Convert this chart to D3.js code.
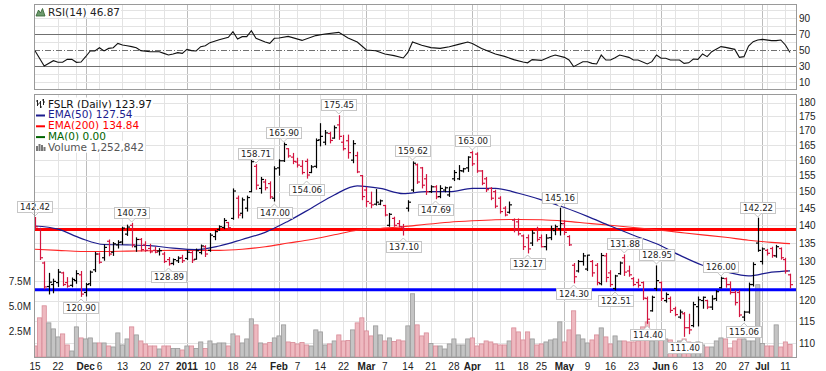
<!DOCTYPE html>
<html lang="en">
<head>
<meta charset="UTF-8">
<title>FSLR daily</title>
<script src="https://d3js.org/d3.v7.min.js"></script>
<style>
    body { margin: 0; background: #fff; }
    svg text { font-family: "DejaVu Sans", Verdana, sans-serif; }
    .ax { font-family: "Liberation Sans", Arial, sans-serif !important; font-size: 10px; fill: #222; }
</style>
</head>
<body>
<div id="chart"></div>
<script>

// ---- data ----
var startDay = "2010-11-15", endDay = "2011-07-12";
var holidays = ["2010-11-25", "2010-12-24", "2011-01-17", "2011-02-21", "2011-04-22", "2011-05-30", "2011-07-04"];

var opens = [
    141.5, 139.0, 129.6, 123.5, 124.0, 124.5, 127.0, 124.5, 123.8, 125.0,
    126.5, 122.0, 124.2, 127.8, 132.0, 131.0, 135.5, 132.5, 134.5, 135.3,
    137.5, 140.0, 134.0, 136.0, 134.5, 133.5, 133.0, 132.8, 132.0, 130.5,
    129.5, 130.2, 131.0, 130.8, 132.4, 130.6, 132.4, 134.0, 133.0, 136.8,
    138.8, 139.4, 140.8, 142.0, 148.0, 143.5, 145.0, 150.0, 158.0, 151.0,
    153.0, 152.5, 148.0, 157.5, 159.8, 163.8, 161.0, 159.4, 158.0, 159.6,
    156.0, 158.0, 166.8, 166.0, 169.0, 167.4, 172.0, 166.0, 166.5, 160.0,
    161.5, 155.0, 150.5, 146.5, 146.2, 146.2, 145.8, 140.0, 142.0, 140.5,
    139.5, 145.0, 150.5, 158.5, 157.5, 154.0, 150.0, 151.5, 148.5, 150.5,
    149.0, 154.0, 154.0, 156.5, 157.5, 162.5, 162.0, 156.5, 154.0, 151.0,
    150.0, 148.0, 145.0, 143.8, 141.5, 141.0, 137.0, 136.5, 135.0, 139.0,
    136.5, 134.0, 136.5, 138.5, 139.0, 140.5, 136.8, 129.0, 127.5, 130.0,
    128.0, 130.0, 129.0, 124.2, 131.5, 127.0, 123.0, 126.8, 131.0, 127.5,
    125.5, 124.5, 124.5, 120.5, 117.5, 123.0, 124.5, 120.0, 120.5, 118.0,
    116.0, 116.8, 113.5, 114.0, 118.5, 120.0, 120.0, 118.4, 120.5, 123.2,
    125.5, 124.0, 122.0, 122.0, 116.0, 117.2, 124.0, 135.0, 130.0, 133.0,
    133.5, 131.5, 133.5, 130.5, 126.5
];
var highs = [
    142.42, 139.3, 130.0, 127.0, 125.5, 128.0, 127.3, 125.9, 125.8, 127.7,
    127.5, 124.4, 127.6, 132.6, 132.4, 134.6, 136.0, 135.3, 135.8, 139.6,
    140.2, 140.73, 136.6, 136.4, 135.5, 134.8, 134.0, 133.6, 132.6, 131.2,
    130.8, 131.4, 131.8, 133.1, 132.9, 133.5, 134.6, 134.4, 137.8, 138.6,
    140.0, 142.1, 141.0, 151.0, 148.8, 148.2, 148.8, 160.2, 158.71, 154.6,
    153.9, 153.2, 158.0, 160.3, 165.90, 164.0, 162.4, 160.8, 160.0, 160.5,
    158.4, 167.3, 172.6, 170.2, 169.6, 171.8, 175.45, 168.5, 168.6, 166.7,
    162.8, 155.2, 151.5, 150.0, 150.8, 147.6, 146.0, 143.6, 142.5, 141.5,
    140.4, 147.4, 159.62, 158.9, 157.8, 155.5, 152.0, 152.0, 152.0, 151.6,
    151.5, 156.8, 158.4, 157.5, 161.3, 163.00, 162.6, 156.8, 154.6, 151.4,
    150.6, 148.6, 145.6, 147.0, 142.0, 142.0, 137.4, 137.4, 138.6, 139.6,
    137.4, 137.5, 139.9, 140.2, 145.16, 141.5, 137.2, 129.6, 130.4, 132.3,
    131.8, 130.4, 129.6, 132.3, 132.3, 127.7, 126.5, 130.0, 131.88, 128.9,
    125.9, 125.5, 124.8, 121.0, 121.2, 128.95, 124.8, 122.0, 121.0, 118.5,
    117.8, 117.2, 116.8, 119.7, 121.0, 121.0, 120.2, 121.3, 122.6, 126.00,
    125.8, 124.8, 122.6, 122.6, 117.5, 124.5, 129.8, 142.22, 133.8, 133.4,
    134.0, 134.5, 133.8, 131.0, 126.8
];
var lows = [
    138.8, 130.4, 122.8, 121.5, 121.8, 123.4, 123.6, 123.2, 123.3, 124.2,
    120.90, 121.0, 123.6, 127.2, 129.4, 130.2, 131.4, 131.5, 133.5, 134.5,
    137.0, 133.8, 132.6, 132.7, 132.6, 132.2, 132.2, 131.6, 129.6, 128.89,
    129.0, 129.6, 129.6, 130.4, 129.6, 130.5, 131.9, 131.2, 132.6, 135.8,
    138.4, 138.9, 138.8, 141.6, 142.0, 142.0, 144.0, 149.8, 150.6, 149.4,
    150.4, 147.8, 147.00, 155.0, 159.4, 160.8, 158.7, 157.6, 155.4, 154.06,
    155.8, 157.4, 164.6, 165.0, 165.6, 167.2, 166.8, 163.2, 160.5, 159.0,
    155.8, 147.4, 145.4, 145.0, 145.8, 145.9, 142.6, 139.6, 139.6, 139.4,
    137.10, 144.0, 149.9, 152.4, 151.0, 149.0, 149.6, 147.69, 148.0, 149.8,
    148.4, 153.3, 153.6, 156.0, 156.2, 158.1, 155.9, 152.0, 149.9, 147.4,
    145.0, 143.4, 142.6, 143.4, 138.0, 137.1, 133.1, 132.17, 134.2, 135.4,
    133.8, 133.0, 135.8, 137.2, 137.1, 137.2, 134.2, 124.30, 127.1, 128.9,
    127.5, 126.0, 123.8, 123.8, 124.6, 123.4, 122.51, 126.5, 126.2, 126.0,
    123.6, 123.2, 120.1, 114.40, 117.3, 122.4, 119.9, 119.5, 117.0, 116.2,
    115.6, 111.40, 112.0, 113.6, 113.8, 118.0, 117.9, 117.7, 119.9, 123.0,
    123.2, 121.5, 118.8, 116.0, 115.06, 116.8, 123.5, 132.6, 129.2, 131.6,
    131.0, 131.0, 130.5, 126.8, 123.0
];
var closes = [
    139.6, 131.0, 123.4, 124.6, 124.8, 127.2, 124.0, 123.6, 125.3, 126.8,
    121.6, 124.0, 127.2, 132.0, 129.8, 133.8, 132.0, 134.8, 135.2, 139.2,
    139.5, 134.5, 136.0, 133.2, 133.0, 132.6, 132.5, 132.9, 130.0, 129.4,
    130.5, 130.9, 130.2, 132.5, 130.4, 132.9, 134.2, 132.0, 137.2, 138.2,
    139.6, 141.4, 139.3, 150.2, 143.0, 147.5, 148.2, 159.5, 152.0, 153.8,
    151.2, 148.4, 157.2, 159.8, 165.2, 161.4, 159.6, 158.4, 156.0, 155.2,
    157.8, 166.6, 168.0, 169.2, 166.6, 171.0, 168.0, 163.8, 162.5, 165.5,
    156.2, 148.5, 147.0, 146.0, 146.8, 147.2, 143.0, 143.2, 140.0, 139.6,
    138.8, 146.8, 159.0, 153.0, 152.0, 150.0, 151.5, 148.4, 151.0, 151.2,
    151.4, 156.0, 156.6, 157.2, 161.0, 158.8, 156.5, 152.6, 150.6, 148.0,
    145.6, 144.0, 143.0, 146.0, 138.6, 137.6, 134.0, 133.4, 137.8, 136.0,
    134.0, 136.4, 139.0, 139.6, 140.5, 138.0, 134.5, 126.0, 130.0, 131.5,
    131.7, 127.0, 124.5, 131.6, 125.8, 124.0, 126.2, 129.6, 127.2, 126.5,
    124.0, 123.8, 120.6, 115.5, 120.8, 125.0, 120.5, 121.5, 117.6, 116.6,
    117.2, 113.5, 113.0, 119.0, 120.2, 120.8, 118.4, 120.4, 122.2, 125.6,
    124.0, 122.0, 119.5, 116.5, 117.2, 124.0, 129.2, 133.0, 133.4, 132.2,
    131.6, 134.0, 131.0, 127.5, 123.97
];
// volume in millions of shares
var volumes = [
    1.1, 3.9, 5.1, 3.4, 2.8, 2.0, 2.3, 1.2, 0.6, 3.0,
    1.9, 1.8, 1.9, 1.4, 1.4, 1.4, 1.1, 1.0, 2.4, 1.2,
    1.8, 3.0, 2.2, 1.6, 1.3, 1.1, 1.1, 0.8, 1.1, 1.1,
    0.85, 0.85, 0.7, 1.1, 1.1, 0.85, 1.5, 0.85, 1.6, 1.3,
    1.4, 1.4, 1.1, 2.3, 2.1, 1.4, 1.8, 3.8, 3.2, 1.4,
    1.3, 1.45, 1.9, 2.1, 3.2, 1.5, 1.45, 1.3, 1.45, 1.2,
    1.1, 2.7, 2.5, 1.2, 1.3, 1.6, 2.2, 1.6, 1.65, 2.7,
    3.4, 3.9, 2.6, 2.1, 3.1, 2.2, 1.6, 1.9, 1.55, 1.7,
    1.6, 3.1, 6.3, 3.2, 2.1, 2.4, 1.35, 1.1, 1.1, 0.8,
    1.3, 1.8, 1.2, 1.2, 1.8, 1.9, 1.1, 1.3, 1.6, 1.5,
    1.3, 1.2, 1.2, 1.6, 2.9, 2.5, 1.7, 2.5, 1.8, 1.2,
    1.3, 1.5, 1.7, 1.8, 3.5, 1.5, 2.7, 4.6, 2.2, 1.8,
    1.4, 1.7, 2.2, 2.9, 2.0, 1.3, 2.1, 1.6, 1.6, 1.5,
    1.5, 1.6, 3.0, 3.5, 1.6, 2.7, 2.2, 1.8, 1.7, 1.2,
    1.6, 1.8, 1.5, 1.2, 1.5, 1.2, 1.0, 1.0, 1.6, 1.9,
    1.8, 0.9, 1.6, 1.8, 1.8, 1.6, 1.6, 7.2, 1.35, 1.1,
    1.1, 3.2, 1.0, 1.5, 1.25
];

// moving averages, read every 5th session
var emaDay = [0, 5, 10, 15, 20, 25, 30, 35, 40, 45, 50, 55, 60, 65, 70, 75, 80, 85, 90, 95,
    100, 105, 110, 115, 120, 125, 130, 135, 140, 145, 150, 155, 160, 164];
var ema50 = [139.8, 138.9, 136.3, 134.6, 134.5, 134.3, 133.6, 133.2, 134.2, 136.0,
    138.0, 141.2, 145.0, 149.0, 151.8, 151.0, 149.4, 150.0, 150.0, 151.0,
    151.0, 149.5, 147.5, 145.2, 142.6, 139.8, 137.2, 134.8, 131.7, 129.0,
    127.3, 126.2, 127.2, 127.54];
var ema200 = [133.3, 133.0, 132.7, 132.7, 132.8, 132.9, 133.0, 133.0, 133.0, 133.3,
    134.0, 135.0, 136.0, 137.3, 138.6, 139.1, 139.6, 140.3, 140.9, 141.3,
    141.6, 141.7, 141.6, 141.2, 140.6, 140.0, 139.4, 138.7, 138.0, 137.3,
    136.6, 135.8, 135.2, 134.84];

// RSI(14)
var rsiDay = [0, 2, 4, 5, 6, 7, 8, 9, 10, 11, 12, 13, 14, 15, 16, 17, 18, 19, 20, 21,
    22, 23, 25, 27, 28, 29, 30, 31, 32, 33, 34, 35, 36, 37, 38, 40, 42, 43, 44, 45,
    46, 47, 48, 50, 51, 52, 53, 55, 58, 61, 63, 66, 68, 70, 72, 74, 76, 78, 80, 81,
    82, 84, 86, 88, 90, 92, 94, 95, 97, 100, 102, 104, 106, 107, 108, 110, 112, 113, 115, 116,
    117, 119, 120, 121, 122, 123, 124, 125, 126, 127, 129, 130, 131, 133, 134, 135, 136, 137, 138, 140,
    141, 142, 143, 144, 145, 146, 147, 149, 150, 152, 153, 154, 155, 156, 157, 158, 160, 161, 162, 163,
    164];
var rsiVal = [49, 30, 36.6, 34.6, 34.6, 38.3, 38.3, 34.6, 35, 41.6, 48.8, 48.8, 52.9, 48.8, 52, 52.9, 58.3, 56.3, 55.4, 54.2,
    52.9, 49.2, 47.9, 47.9, 45.8, 43.7, 45, 46.7, 45.8, 50.8, 49.2, 48.8, 54.2, 55.4, 59.2, 62.7, 65.8, 72.9, 63.7, 66.7,
    66.7, 74.2, 64.6, 60, 58.3, 64.6, 65, 67, 62, 68, 70, 72, 65, 60, 50, 49, 45, 43, 40, 47,
    60, 56, 53, 52, 54, 57, 60, 58, 52, 45, 42, 38, 35, 34, 38, 37, 42, 43.7, 40.8, 37.5,
    29.2, 35.4, 35.4, 33.3, 32.5, 43.7, 37.5, 37.5, 40.4, 43.7, 40.8, 37.5, 37.5, 32.5, 35.4, 43.7, 39.6, 39.6, 37.5, 37.5,
    33.3, 34, 38.8, 38.3, 45, 41.7, 47.9, 54.2, 53.3, 50.8, 40.8, 41.7, 55, 60.4, 62.5, 63.3, 61.7, 61.7, 62.5, 56.3,
    46.87];

// labelled highs (H) and lows (L)
var markDay = [0, 10, 21, 29, 48, 52, 54, 59, 66, 80, 82, 87, 95, 107, 114, 117, 126, 128, 133, 135, 141, 149, 154, 157];
var markType = ["H", "L", "H", "L", "H", "L", "H", "L", "H", "L", "H", "L", "H", "L", "H", "L", "L", "H", "L", "H", "L", "H", "L", "H"];

var resistance = 138.8, support = 122.7;

var tickDates = ["2010-11-15", "2010-11-22", "2010-12-01", "2010-12-06", "2010-12-13", "2010-12-20", "2010-12-27",
    "2011-01-03", "2011-01-10", "2011-01-18", "2011-01-24", "2011-02-01", "2011-02-07", "2011-02-14", "2011-02-22",
    "2011-03-01", "2011-03-07", "2011-03-14", "2011-03-21", "2011-03-28", "2011-04-01", "2011-04-11", "2011-04-18",
    "2011-04-25", "2011-05-02", "2011-05-09", "2011-05-16", "2011-05-23", "2011-06-01", "2011-06-06", "2011-06-13",
    "2011-06-20", "2011-06-27", "2011-07-01", "2011-07-11"];
var tickLabels = ["15", "22", "Dec", "6", "13", "20", "27", "2011", "10", "18", "24", "Feb", "7", "14", "22",
    "Mar", "7", "14", "21", "28", "Apr", "11", "18", "25", "May", "9", "16", "23", "Jun", "6", "13",
    "20", "27", "Jul", "11"];
var priceTicks = [180, 175, 170, 165, 160, 155, 150, 145, 140, 135, 130, 125, 120, 115, 110];
var rsiTicks = [90, 70, 50, 30, 10];
var volTicks = [7.5, 5.0, 2.5];

// ---- layout ----
var w = 826, h = 371;
var left = 34, right = 796;
var rsiTop = 4, rsiBot = 89;
var mainTop = 94, mainBot = 357;

var parse = d3.timeParse("%Y-%m-%d"), fmt = d3.timeFormat("%Y-%m-%d");
var days = d3.timeDay.range(parse(startDay), d3.timeDay.offset(parse(endDay), 1))
    .filter(function (d) { return d.getDay() > 0 && d.getDay() < 6 && holidays.indexOf(fmt(d)) < 0; })
    .map(fmt);

var bars = days.map(function (d, i) {
    var prev = i > 0 ? closes[i - 1] : opens[0];
    return {day: d, o: opens[i], h: highs[i], l: lows[i], c: closes[i], v: volumes[i], up: closes[i] >= prev};
});

var svg = d3.select("#chart")
    .append("svg")
    .attr("width", w)
    .attr("height", h)
    .style("background", "#fff");

var x = d3.scalePoint().domain(days).range([35, 790]);
var y = d3.scaleLog().domain([110, 180]).range([343, 102.7]);
var yv = d3.scaleLinear().domain([0, 7.5]).range([mainBot, 281.7]);
var yr = d3.scaleLinear().domain([0, 100]).range([90, 10]);

svg.append("clipPath").attr("id", "clipMain")
    .append("rect").attr("x", left).attr("y", mainTop).attr("width", right - left).attr("height", mainBot - mainTop);
svg.append("clipPath").attr("id", "clipRsi")
    .append("rect").attr("x", left).attr("y", rsiTop).attr("width", right - left).attr("height", rsiBot - rsiTop);

// week / month grid positions
var weekStarts = [], monthStarts = [];
days.forEach(function (d, i) {
    if (i === 0) return;
    var a = parse(days[i - 1]), b = parse(d);
    if (a.getMonth() !== b.getMonth()) monthStarts.push(d);
    else if (d3.timeWeek.floor(a).getTime() !== d3.timeWeek.floor(b).getTime()) weekStarts.push(d);
});

function grid(top, bot) {
    var g = svg.append("g");
    g.selectAll(".wk").data(weekStarts).enter().append("line")
        .attr("x1", function (d) { return Math.round(x(d)) + 0.5; })
        .attr("x2", function (d) { return Math.round(x(d)) + 0.5; })
        .attr("y1", top).attr("y2", bot)
        .attr("stroke", "#e3e3e3");
    g.selectAll(".mo").data(monthStarts).enter().append("line")
        .attr("x1", function (d) { return Math.round(x(d)) + 0.5; })
        .attr("x2", function (d) { return Math.round(x(d)) + 0.5; })
        .attr("y1", top).attr("y2", bot)
        .attr("stroke", "#bdbdbd");
    return g;
}

// ---- RSI panel ----
grid(rsiTop, rsiBot);
svg.append("g").selectAll("line").data([100, 90, 80, 60, 40, 20, 10]).enter().append("line")
    .attr("x1", left).attr("x2", right)
    .attr("y1", function (d) { return Math.round(yr(d)) + 0.5; })
    .attr("y2", function (d) { return Math.round(yr(d)) + 0.5; })
    .attr("stroke", "#e3e3e3");
svg.append("g").selectAll("line").data([70, 30]).enter().append("line")
    .attr("x1", left).attr("x2", right)
    .attr("y1", function (d) { return Math.round(yr(d)) + 0.5; })
    .attr("y2", function (d) { return Math.round(yr(d)) + 0.5; })
    .attr("stroke", "#707070");
svg.append("line")
    .attr("x1", left).attr("x2", right)
    .attr("y1", Math.round(yr(50)) + 0.5).attr("y2", Math.round(yr(50)) + 0.5)
    .attr("stroke", "#707070").attr("stroke-dasharray", "6,2,1,2");

var rsiLine = d3.line()
    .x(function (d, i) { return x(days[rsiDay[i]]); })
    .y(function (d) { return yr(d); });
svg.append("path")
    .datum(rsiVal)
    .attr("clip-path", "url(#clipRsi)")
    .attr("d", rsiLine)
    .attr("fill", "none")
    .attr("stroke", "#111")
    .attr("stroke-width", 1.1);

svg.append("rect")
    .attr("x", left + 0.5).attr("y", rsiTop + 0.5)
    .attr("width", right - left).attr("height", rsiBot - rsiTop)
    .attr("fill", "none").attr("stroke", "#9a9a9a");

svg.append("g").selectAll("text").data(rsiTicks).enter().append("text")
    .attr("class", "ax")
    .attr("x", right + 3)
    .attr("y", function (d) { return yr(d); })
    .attr("dy", "0.35em")
    .text(function (d) { return d; });

// ---- main panel ----
grid(mainTop, mainBot);
svg.append("g").selectAll("line").data(priceTicks).enter().append("line")
    .attr("x1", left).attr("x2", right)
    .attr("y1", function (d) { return Math.round(y(d)) + 0.5; })
    .attr("y2", function (d) { return Math.round(y(d)) + 0.5; })
    .attr("stroke", "#e3e3e3");

var mainG = svg.append("g").attr("clip-path", "url(#clipMain)");

// volume
mainG.append("g").selectAll("rect").data(bars).enter().append("rect")
    .attr("x", function (d) { return x(d.day) - 2.1; })
    .attr("width", 4.2)
    .attr("y", function (d) { return yv(d.v); })
    .attr("height", function (d) { return mainBot - yv(d.v); })
    .attr("fill", function (d) { return d.up ? "#c4c4c4" : "#eeb9c0"; })
    .attr("stroke", function (d) { return d.up ? "#9a9a9a" : "#d88c98"; })
    .attr("stroke-width", 0.8);

// support / resistance
mainG.append("line")
    .attr("x1", left).attr("x2", right)
    .attr("y1", y(resistance)).attr("y2", y(resistance))
    .attr("stroke", "#ff0000").attr("stroke-width", 3);
mainG.append("line")
    .attr("x1", left).attr("x2", right)
    .attr("y1", y(support)).attr("y2", y(support))
    .attr("stroke", "#0000ff").attr("stroke-width", 3);

// moving averages
var emaLine = function (vals) {
    return d3.line()
        .curve(d3.curveMonotoneX)
        .x(function (d, i) { return x(days[emaDay[i]]); })
        .y(function (d) { return y(d); })(vals);
};
mainG.append("path").attr("d", emaLine(ema200))
    .attr("fill", "none").attr("stroke", "#ff2626").attr("stroke-width", 1.1);
mainG.append("path").attr("d", emaLine(ema50))
    .attr("fill", "none").attr("stroke", "#1c1c8e").attr("stroke-width", 1.2);

// OHLC bars
var barG = mainG.append("g").selectAll("g").data(bars).enter().append("g")
    .attr("stroke", function (d) { return d.up ? "#000" : "#d3143f"; })
    .attr("stroke-width", 1.2);
barG.append("line")
    .attr("x1", function (d) { return Math.round(x(d.day)) + 0.5; })
    .attr("x2", function (d) { return Math.round(x(d.day)) + 0.5; })
    .attr("y1", function (d) { return y(d.h); })
    .attr("y2", function (d) { return y(d.l); });
barG.append("line")
    .attr("x1", function (d) { return Math.round(x(d.day)) - 2; })
    .attr("x2", function (d) { return Math.round(x(d.day)) + 0.5; })
    .attr("y1", function (d) { return y(d.o); })
    .attr("y2", function (d) { return y(d.o); });
barG.append("line")
    .attr("x1", function (d) { return Math.round(x(d.day)) + 0.5; })
    .attr("x2", function (d) { return Math.round(x(d.day)) + 3; })
    .attr("y1", function (d) { return y(d.c); })
    .attr("y2", function (d) { return y(d.c); });

// labelled highs and lows
var markG = svg.append("g");
markDay.forEach(function (di, k) {
    var b = bars[di], isHigh = markType[k] === "H";
    var px = x(b.day), val = isHigh ? b.h : b.l, py = y(val);
    var g = markG.append("g");
    var t = g.append("text")
        .attr("font-size", 8.6)
        .attr("font-family", "'Liberation Sans', Arial, sans-serif")
        .attr("fill", "#222")
        .text(val.toFixed(2));
    var tw = t.node().getComputedTextLength();
    var bw = tw + 5, bh = 11;
    var bx = Math.max(14, px - bw / 2);
    var by = isHigh ? py - 5 - bh : py + 5;
    g.insert("rect", function () { return t.node(); })
        .attr("x", Math.round(bx) + 0.5).attr("y", Math.round(by) + 0.5)
        .attr("width", Math.round(bw)).attr("height", bh)
        .attr("fill", "#fff").attr("stroke", "#c6c6c6");
    var edge = isHigh ? Math.round(by) + bh + 0.5 : Math.round(by) + 0.5;
    var tip = isHigh ? edge + 3.5 : edge - 3.5;
    g.append("path")
        .attr("d", "M" + (px - 3.5) + "," + edge + "L" + px + "," + tip + "L" + (px + 3.5) + "," + edge)
        .attr("fill", "#fff").attr("stroke", "#c6c6c6");
    t.attr("x", Math.round(bx) + 3).attr("y", Math.round(by) + 9);
});

svg.append("rect")
    .attr("x", left + 0.5).attr("y", mainTop + 0.5)
    .attr("width", right - left).attr("height", mainBot - mainTop)
    .attr("fill", "none").attr("stroke", "#9a9a9a");

// right price axis
svg.append("g").selectAll("text").data(priceTicks).enter().append("text")
    .attr("class", "ax")
    .attr("x", right + 3)
    .attr("y", function (d) { return y(d); })
    .attr("dy", "0.35em")
    .text(function (d) { return d; });

// left volume axis
svg.append("g").selectAll("text").data(volTicks).enter().append("text")
    .attr("class", "ax")
    .attr("x", left - 3)
    .attr("y", function (d) { return yv(d); })
    .attr("dy", "0.35em")
    .attr("text-anchor", "end")
    .text(function (d) { return d.toFixed(1) + "M"; });

// date axis
svg.append("g").selectAll("text").data(tickDates).enter().append("text")
    .attr("class", "ax")
    .attr("x", function (d) { return x(d); })
    .attr("y", 370)
    .attr("text-anchor", "middle")
    .attr("font-weight", function (d, i) { return /^[A-Z]|2011/.test(tickLabels[i]) ? "bold" : "normal"; })
    .text(function (d, i) { return tickLabels[i]; });

// ---- legends ----
var legG = svg.append("g");
function legendRow(xp, yp, txt, col) {
    var row = legG.append("g");
    var t = row.append("text").attr("x", xp).attr("y", yp)
        .attr("font-size", 10.5).attr("fill", col).text(txt);
    var bb = t.node().getBBox();
    row.insert("rect", function () { return t.node(); })
        .attr("x", bb.x - 1).attr("y", bb.y)
        .attr("width", bb.width + 2).attr("height", bb.height).attr("fill", "#fff");
    return t;
}
// RSI legend
legendRow(48, 15.5, "RSI(14) 46.87", "#222");
legG.append("rect").attr("x", 35).attr("y", 7).attr("width", 12).attr("height", 10).attr("fill", "#fff");
legG.append("path").attr("d", "M36,16L38.5,10L40.5,13L42.5,8.5L45,16Z")
    .attr("fill", "#6d9a6d").attr("stroke", "#2f5f2f").attr("stroke-width", 0.8);

var rows = [
    {t: "FSLR (Daily) 123.97", c: "#111", y: 107.5},
    {t: "EMA(50) 127.54", c: "#1c1c8e", y: 118.3},
    {t: "EMA(200) 134.84", c: "#ff0000", y: 129.1},
    {t: "MA(0) 0.00", c: "#006400", y: 139.9},
    {t: "Volume 1,252,842", c: "#555", y: 150.7}
];
rows.forEach(function (r) { legendRow(48, r.y, r.t, r.c); });
legG.append("rect").attr("x", 35).attr("y", 98).attr("width", 13).attr("height", 55).attr("fill", "#fff");
// small bar icon
[[37.5, 100, 106, 101, 104], [40.5, 101, 108, 103, 107], [43.5, 99, 105, 100, 102]].forEach(function (b) {
    legG.append("path").attr("d", "M" + b[0] + "," + b[1] + "V" + b[2] + "M" + (b[0] - 1.5) + "," + b[3] + "H" + b[0] + "M" + b[0] + "," + b[4] + "H" + (b[0] + 1.5))
        .attr("stroke", "#222").attr("stroke-width", 1).attr("fill", "none");
});
[["#1c1c8e", 115.5], ["#ff0000", 126.3], ["#006400", 137.1]].forEach(function (m) {
    legG.append("rect").attr("x", 36).attr("y", m[1] - 1).attr("width", 9).attr("height", 2).attr("fill", m[0]);
});
[[36, 146], [38.5, 144], [41, 145], [43.5, 147]].forEach(function (b) {
    legG.append("rect").attr("x", b[0]).attr("y", b[1]).attr("width", 2).attr("height", 151 - b[1]).attr("fill", "#777");
});

</script>
</body>
</html>
